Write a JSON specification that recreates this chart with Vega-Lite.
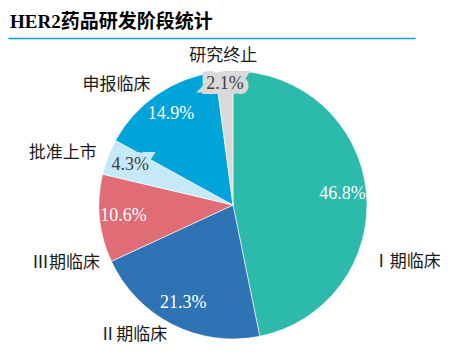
{
  "$schema": "https://vega.github.io/schema/vega-lite/v6.json",
  "autosize": "none",
  "width": 434,
  "height": 304,
  "padding": {"left": 16, "top": 53, "right": 0, "bottom": 0},
  "background": "white",
  "title": {
    "text": "HER2药品研发阶段统计",
    "anchor": "start",
    "frame": "group",
    "font": "Liberation Serif, Noto Sans CJK SC",
    "fontSize": 19,
    "fontWeight": "bold",
    "color": "#000000",
    "dx": -6,
    "offset": 6
  },
  "config": {"view": {"stroke": null}},
  "data": {
    "values": [
      {"stage": "Ⅰ期临床", "pct": 46.8, "rank": 1, "label": "46.8%"},
      {"stage": "Ⅱ期临床", "pct": 21.3, "rank": 2, "label": "21.3%"},
      {"stage": "Ⅲ期临床", "pct": 10.6, "rank": 3, "label": "10.6%"},
      {"stage": "批准上市", "pct": 4.3, "rank": 4, "label": "4.3%"},
      {"stage": "申报临床", "pct": 14.9, "rank": 5, "label": "14.9%"},
      {"stage": "研究终止", "pct": 2.1, "rank": 6, "label": "2.1%"}
    ]
  },
  "encoding": {
    "theta": {"field": "pct", "type": "quantitative", "stack": true},
    "order": {"field": "rank", "type": "quantitative"}
  },
  "layer": [
    {
      "mark": {"type": "rule", "opacity": 0},
      "encoding": {
        "theta": null,
        "order": null,
        "x": {
          "datum": 0,
          "type": "quantitative",
          "scale": {"domain": [0, 1], "range": [-8, 399]},
          "axis": {
            "orient": "top",
            "offset": 15,
            "domainColor": "#00a0e0",
            "domainWidth": 1.5,
            "labels": false,
            "ticks": false,
            "grid": false,
            "title": null
          }
        }
      }
    },
    {
      "mark": {"type": "arc", "outerRadius": 134, "stroke": "white", "strokeWidth": 0.6},
      "encoding": {
        "color": {
          "field": "stage",
          "type": "nominal",
          "legend": null,
          "scale": {
            "domain": ["Ⅰ期临床", "Ⅱ期临床", "Ⅲ期临床", "批准上市", "申报临床", "研究终止"],
            "range": ["#2cbaab", "#2e74b5", "#e06c75", "#c6e9fa", "#00a3da", "#d9d9d9"]
          }
        }
      }
    },
    {
      "mark": {"type": "text", "radius": 110, "font": "Liberation Serif", "fontSize": 18, "color": "white", "baseline": "middle", "align": "center"},
      "encoding": {"text": {"condition": {"test": "datum.rank <= 3 || datum.rank == 5", "field": "label"}, "value": ""}}
    },
    {
      "mark": {"type": "text", "radius": 110, "font": "Liberation Serif", "fontSize": 18, "color": "#c6e9fa", "stroke": "#c6e9fa", "strokeWidth": 10, "strokeJoin": "miter", "baseline": "middle", "align": "center"},
      "encoding": {"text": {"condition": {"test": "datum.rank == 4", "field": "label"}, "value": ""}}
    },
    {
      "mark": {"type": "text", "radius": 121, "font": "Liberation Serif", "fontSize": 18, "color": "#d9d9d9", "stroke": "#d9d9d9", "strokeWidth": 10, "strokeJoin": "miter", "baseline": "middle", "align": "center"},
      "encoding": {"text": {"condition": {"test": "datum.rank == 6", "field": "label"}, "value": ""}}
    },
    {
      "mark": {"type": "text", "radius": 110, "font": "Liberation Serif", "fontSize": 18, "color": "#404040", "baseline": "middle", "align": "center"},
      "encoding": {"text": {"condition": {"test": "datum.rank == 4", "field": "label"}, "value": ""}}
    },
    {
      "mark": {"type": "text", "radius": 121, "font": "Liberation Serif", "fontSize": 18, "color": "#404040", "baseline": "middle", "align": "center"},
      "encoding": {"text": {"condition": {"test": "datum.rank == 6", "field": "label"}, "value": ""}}
    },
    {
      "mark": {"type": "text", "radius": 146, "font": "Liberation Serif, Noto Sans CJK SC", "fontSize": 17, "color": "#1a1a1a", "baseline": "middle", "align": "right"},
      "encoding": {"text": {"condition": {"test": "datum.rank == 2 || datum.rank == 4 || datum.rank == 5", "field": "stage"}, "value": ""}}
    },
    {
      "mark": {"type": "text", "radius": 145, "thetaOffset": -0.31, "font": "Liberation Serif, Noto Sans CJK SC", "fontSize": 17, "color": "#1a1a1a", "baseline": "middle", "align": "right"},
      "encoding": {"text": {"condition": {"test": "datum.rank == 3", "field": "stage"}, "value": ""}}
    },
    {
      "mark": {"type": "text", "radius": 151, "thetaOffset": 0.49, "font": "Liberation Serif, Noto Sans CJK SC", "fontSize": 17, "color": "#1a1a1a", "baseline": "middle", "align": "left"},
      "encoding": {"text": {"condition": {"test": "datum.rank == 1", "field": "stage"}, "value": ""}}
    },
    {
      "mark": {"type": "text", "radius": 149, "font": "Liberation Serif, Noto Sans CJK SC", "fontSize": 17, "color": "#1a1a1a", "baseline": "middle", "align": "center"},
      "encoding": {"text": {"condition": {"test": "datum.rank == 6", "field": "stage"}, "value": ""}}
    }
  ]
}
